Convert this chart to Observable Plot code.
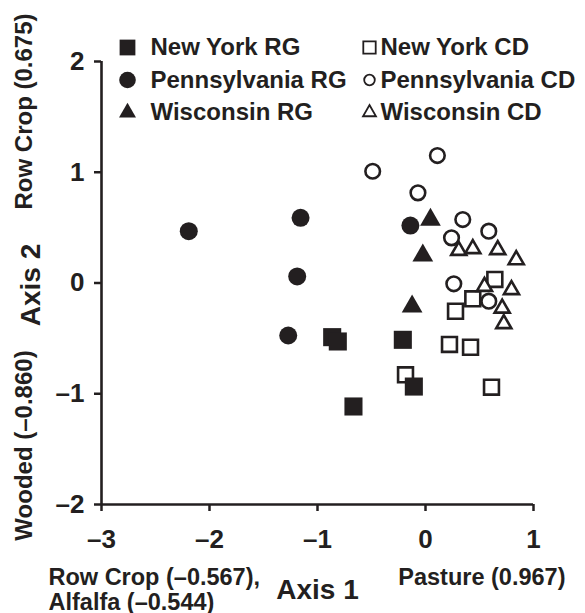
<!DOCTYPE html>
<html>
<head>
<meta charset="utf-8">
<script src="https://cdn.jsdelivr.net/npm/d3@7"></script>
<script src="https://cdn.jsdelivr.net/npm/@observablehq/plot@0.6"></script>
<style>
  html, body { margin: 0; padding: 0; background: #fff; }
  #chart svg { display: block; }
</style>
</head>
<body>
<div id="chart"></div>
<script>
// ---- data (Axis 1, Axis 2) ----
const newYorkRG = [[-0.864, -0.489], [-0.812, -0.528], [-0.667, -1.115], [-0.210, -0.513], [-0.108, -0.935]];
const pennsylvaniaRG = [[-2.192, 0.468], [-1.157, 0.589], [-1.188, 0.059], [-1.271, -0.474], [-0.140, 0.519]];
const wisconsinRG = [[0.046, 0.571], [-0.025, 0.248], [-0.124, -0.212]];
const newYorkCD = [[0.642, 0.032], [0.438, -0.143], [0.278, -0.255], [0.222, -0.555], [0.417, -0.580], [-0.185, -0.829], [0.611, -0.941]];
const pennsylvaniaCD = [[-0.489, 1.009], [0.110, 1.151], [-0.070, 0.814], [0.345, 0.573], [0.241, 0.408], [0.586, 0.468], [0.262, -0.007], [0.586, -0.164]];
const wisconsinCD = [[0.308, 0.293], [0.438, 0.309], [0.669, 0.300], [0.840, 0.209], [0.546, -0.032], [0.796, -0.061], [0.710, -0.228], [0.725, -0.368]];

const seriesNames = ["New York RG", "Pennsylvania RG", "Wisconsin RG", "New York CD", "Pennsylvania CD", "Wisconsin CD"];
const xTicks = [-3, -2, -1, 0, 1];
const yTicks = [-2, -1, 0, 1, 2];
const axis1Title = "Axis 1";
const axis2Title = "Axis 2";
const axis1Neg = ["Row Crop (\u20130.567),", "Alfalfa (\u20130.544)"];
const axis1Pos = "Pasture (0.967)";
const axis2Pos = "Row Crop (0.675)";
const axis2Neg = "Wooded (\u20130.860)";

// ---- styling ----
const ink = "#231f20";
const font = "'Liberation Sans', Arial, Helvetica, sans-serif";
const fmt = d => d < 0 ? "\u2013" + Math.abs(d) : String(d);

const styles = {
  "New York RG":     {symbol: "square",   r: 10.2, fill: ink,    stroke: "none", strokeWidth: 0},
  "Pennsylvania RG": {symbol: "circle",   r: 9,    fill: ink,    stroke: "none", strokeWidth: 0},
  "Wisconsin RG":    {symbol: "triangle", r: 7.7,  fill: ink,    stroke: "none", strokeWidth: 0},
  "New York CD":     {symbol: "square",   r: 8.4,  fill: "#fff", stroke: ink,    strokeWidth: 2.6},
  "Pennsylvania CD": {symbol: "circle",   r: 7.3,  fill: "#fff", stroke: ink,    strokeWidth: 2.6},
  "Wisconsin CD":    {symbol: "triangle", r: 5.6,  fill: "#fff", stroke: ink,    strokeWidth: 2.6}
};
const legendStyles = {
  "New York RG":     {r: 8.9},
  "Pennsylvania RG": {r: 8.3},
  "Wisconsin RG":    {r: 6.3},
  "New York CD":     {r: 7.0, strokeWidth: 1.8},
  "Pennsylvania CD": {r: 5.3, strokeWidth: 1.8},
  "Wisconsin CD":    {r: 4.8, strokeWidth: 1.8}
};

const seriesData = {
  "New York RG": newYorkRG,
  "Pennsylvania RG": pennsylvaniaRG,
  "Wisconsin RG": wisconsinRG,
  "New York CD": newYorkCD,
  "Pennsylvania CD": pennsylvaniaCD,
  "Wisconsin CD": wisconsinCD
};

// draw order: open symbols first, filled on top
const drawOrder = ["New York CD", "Pennsylvania CD", "Wisconsin CD", "New York RG", "Pennsylvania RG", "Wisconsin RG"];
const pointMarks = drawOrder.map(name => {
  const s = styles[name];
  const data = seriesData[name].map(([x, y]) => ({x, y, series: name}));
  return Plot.dot(data, {x: "x", y: "y", symbol: () => s.symbol, r: s.r, fill: s.fill, stroke: s.stroke, strokeWidth: s.strokeWidth});
});

// legend (inside the frame, upper-left)
const legendRowsDy = [-14, 18.5, 51];
const legendMarks = seriesNames.flatMap((name, i) => {
  const col = i < 3 ? 0 : 1;
  const row = i % 3;
  const s = styles[name];
  const ls = legendStyles[name];
  const symDx = col === 0 ? 26 : 268;
  const txtDx = col === 0 ? 49 : 279;
  return [
    Plot.dot([name], {frameAnchor: "top-left", dx: symDx, dy: legendRowsDy[row], symbol: () => s.symbol, r: ls.r,
      fill: s.fill, stroke: s.stroke, strokeWidth: ls.strokeWidth ?? 0}),
    Plot.text([name], {frameAnchor: "top-left", dx: txtDx, dy: legendRowsDy[row], text: d => d, textAnchor: "start",
      lineAnchor: "middle", fontSize: 24, fontWeight: "bold", fill: ink})
  ];
});

const chart = Plot.plot({
  width: 585,
  height: 613,
  marginLeft: 101,
  marginRight: 52,
  marginTop: 61,
  marginBottom: 109,
  style: {fontFamily: font, fontWeight: "bold", color: ink, background: "#fff", overflow: "visible"},
  x: {domain: [-3, 1]},
  y: {domain: [-2, 2]},
  symbol: {type: "identity"},
  marks: [
    Plot.axisX({ticks: xTicks, tickFormat: fmt, tickSize: 7, tickPadding: 18, fontSize: 26, fontWeight: "bold", strokeWidth: 2.5, stroke: ink, fill: ink, label: null}),
    Plot.axisY({ticks: yTicks, tickFormat: fmt, tickSize: 7, tickPadding: 10, fontSize: 26, fontWeight: "bold", strokeWidth: 2.5, stroke: ink, fill: ink, label: null}),
    Plot.ruleY([-2], {stroke: ink, strokeWidth: 2.6}),
    Plot.ruleX([-3], {stroke: ink, strokeWidth: 2.6}),
    ...pointMarks,
    ...legendMarks,
    // axis titles and loadings
    Plot.text([axis1Title], {frameAnchor: "bottom", dx: 0, dy: 86, text: d => d, textAnchor: "middle", fontSize: 28, fontWeight: "bold", fill: ink, lineAnchor: "middle"}),
    Plot.text([axis1Neg[0]], {frameAnchor: "bottom-left", dx: -53, dy: 73, text: d => d, textAnchor: "start", fontSize: 23.5, fontWeight: "bold", fill: ink, lineAnchor: "middle"}),
    Plot.text([axis1Neg[1]], {frameAnchor: "bottom-left", dx: -53, dy: 97.5, text: d => d, textAnchor: "start", fontSize: 23.5, fontWeight: "bold", fill: ink, lineAnchor: "middle"}),
    Plot.text([axis1Pos], {frameAnchor: "bottom-right", dx: 32, dy: 73, text: d => d, textAnchor: "end", fontSize: 23.5, fontWeight: "bold", fill: ink, lineAnchor: "middle"}),
    Plot.text([axis2Title], {frameAnchor: "left", dx: -70, dy: 2, rotate: -90, text: d => d, textAnchor: "middle", fontSize: 28, fontWeight: "bold", fill: ink, lineAnchor: "middle"}),
    Plot.text([axis2Pos], {frameAnchor: "top-left", dx: -77, dy: 50, rotate: -90, text: d => d, textAnchor: "middle", fontSize: 24, fontWeight: "bold", fill: ink, lineAnchor: "middle"}),
    Plot.text([axis2Neg], {frameAnchor: "bottom-left", dx: -77, dy: -59, rotate: -90, text: d => d, textAnchor: "middle", fontSize: 24, fontWeight: "bold", fill: ink, lineAnchor: "middle"})
  ]
});
document.getElementById("chart").appendChild(chart);
</script>
</body>
</html>
